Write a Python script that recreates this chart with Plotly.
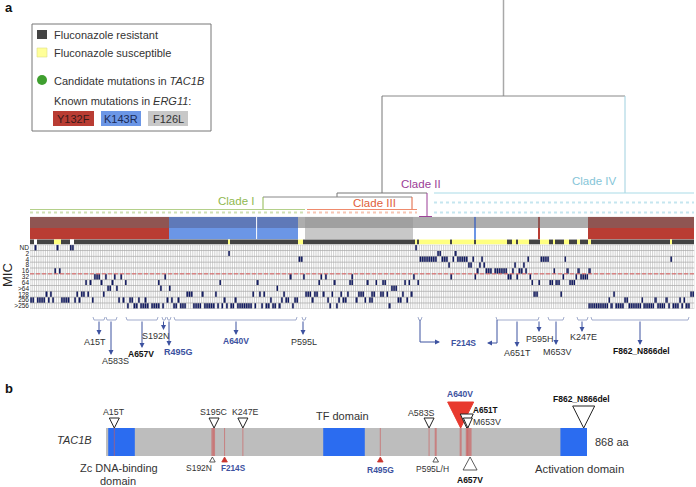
import plotly.graph_objects as go

W, H = 696, 487
FONT = "Liberation Sans"
TXT = "#333333"
RED, BLUE, GREY = "#b93c33", "#6b96e6", "#c8c8c8"
ARROW = "#3d52a0"
NAVY = "#0d1660"

# ---------- MIC panel data: (first isolate, number of isolates) per MIC row ----------
mic_labels = ["ND", "2", "4", "8", "16", "32", "64", ">64", "128", "256", ">256"]
mic_nd = [(2,1),(12,1),(18,2),(175,1)]
mic_2 = [(90,1),(185,2),(193,1)]
mic_4 = [(122,2),(177,8),(187,3),(192,1),(194,5),(201,1),(205,1),(226,1),(232,4),(243,1),(291,1)]
mic_8 = [(190,1),(199,2),(204,1),(206,1),(220,1),(224,1)]
mic_16 = [(11,1),(13,1),(203,1),(207,3),(211,6),(219,1),(222,2),(225,1),(238,1),(244,1),(249,1),(254,1)]
mic_32 = [(29,3),(34,1),(38,1),(41,1),(61,1),(118,1),(124,1),(132,1),(134,1),(146,1),(174,1),(191,1),
          (202,1),(217,2),(221,1),(227,1),(242,1),(248,1),(250,4)]
mic_64 = [(25,1),(27,1),(32,1),(37,1),(43,1),(58,1),(86,1),(103,1),(131,1),(138,1),(145,2),(153,1),(157,1),
          (160,2),(170,1),(172,1),(176,1),(228,1),(231,1),(236,2),(239,2),(245,3)]
mic_gt64 = [(35,2),(39,1),(59,1),(63,1),(112,1),(164,3)]
mic_128 = [(7,1),(9,1),(21,1),(23,2),(26,1),(33,1),(71,3),(78,1),(84,1),(101,1),(104,1),(106,1),(115,1),
           (125,3),(129,2),(133,1),(137,1),(141,1),(144,1),(149,1),(150,2),(155,2),(159,2),(162,1),(169,1),
           (173,1),(229,2),(241,1),(265,1),(300,2)]
mic_256 = [(0,2),(3,4),(8,1),(10,1),(14,4),(20,1),(22,1),(28,1),(40,1),(42,1),(45,2),(49,1),(52,1),(62,1),
           (64,1),(67,1),(88,1),(93,1),(109,1),(114,1),(116,2),(120,2),(128,1),(135,1),(140,1),(142,2),
           (148,1),(152,1),(154,2),(167,2),(171,1),(263,1),(270,2),(278,1),(284,1),(289,1),(295,1),(297,1)]
mic_gt256 = [(44,1),(47,2),(50,4),(55,4),(60,1),(65,2),(68,3),(74,4),(79,5),(85,1),(87,1),(89,1),(91,2),(94,7),
             (102,1),(105,1),(107,2),(110,2),(113,1),(119,1),(136,1),(139,1),(163,1),(254,9),(264,1),(266,4),
             (272,6),(279,5),(285,4),(290,1),(292,3),(296,1),(298,2)]
mic_rows = [mic_nd, mic_2, mic_4, mic_8, mic_16, mic_32, mic_64, mic_gt64, mic_128, mic_256, mic_gt256]

N = 302
# fluconazole status: 0 resistant, 1 susceptible, 2 unknown (default 0)
status_susceptible = [(11,3),(90,1),(122,2),(175,1),(177,14),(192,10),(203,14),(219,2),(222,5),(232,4),(238,1),
                      (243,2),(249,1),(254,1),(291,1)]
status_unknown = [(2,1),(18,2)]
# ERG11 mutation runs: 0 none, 1 Y132F, 2 K143R, 3 F126L
erg11_runs = [(0,63,1),(63,59,2),(125,49,3),(202,1,2),(231,1,1),(254,48,1)]
erg11_gap_column = 103
# isolates carrying candidate TAC1B mutations
candidate_runs = [(29,11),(43,15),(60,1),(62,1),(65,56),(124,2),(180,2),(212,20),(235,7),(248,5),(254,45)]

# ---------- protein (panel b) data ----------
protein_length = 868
domains = [(4, 52), (392, 467), (820, 868)]
mutation_positions = [15, 192, 195, 214, 247, 495, 583, 595, 640, 651, 653, 657]
mutation_widths = [1, 2, 2, 1, 1, 1, 1, 2, 2, 2, 2, 3]
tri_down = [  # aa, half width px, top px, fill
    (15, 5, 418, "white"), (195, 5, 418, "white"), (247, 5, 418, "white"), (583, 5, 418, "white"),
    (640, 13, 402, "#e8392e"), (651, 6.5, 414, "white"), (653, 4.5, 418, "white"), (862, 11, 406, "white")]
tri_up = [  # aa, half width px, bottom px, fill
    (192, 2.8, 462, "white"), (214, 2.8, 462, "#c9352e"), (495, 2.8, 462, "#c9352e"),
    (595, 2.8, 462, "white"), (657, 7, 470, "white")]

# pixel frames of the panels
GX0, CW = 30.0, 2.2
G_TOP, G_BOT = 244.7, 308.8
BAR_TOP, BAR_BOT = 428, 456
PX0, PX1 = 106.0, 587.0


def fx(px): return px / W
def fy(py): return 1 - py / H


fig = go.Figure()

def line(xs, ys, color, width=1, dash=None, **kw):
    fig.add_trace(go.Scatter(x=xs, y=ys, mode="lines", hoverinfo="skip", showlegend=False,
                             line=dict(color=color, width=width, dash=dash), **kw))

def rect(x0, x1, y0, y1, fill, border=None, lw=1):
    fig.add_trace(go.Scatter(x=[x0, x1, x1, x0, x0], y=[y0, y0, y1, y1, y0], mode="lines", fill="toself",
                             fillcolor=fill, hoverinfo="skip", showlegend=False,
                             line=dict(color=border or fill, width=lw if border else 0)))

# invisible trace keeps main axes alive
line([0, W], [0, H], "rgba(0,0,0,0)", 0)

# ---------- dendrogram ----------
line([503.5, 503.5], [0, 96], "#a8a8a8", 1.5)
line([382, 625], [96, 96], "#888888", 1)
line([382, 382], [96, 193], "#777777", 1)
line([625, 625], [96, 193], "#9fd0df", 1)
line([337, 427], [193, 193], "#777777", 1)
line([337, 337], [193, 197], "#777777", 1)
line([263, 412], [197, 197], "#888888", 1)
line([263, 263], [197, 209], "#8fb84f", 1)
line([412, 412], [197, 209], "#e0603a", 1)
line([427, 427], [193, 216], "#9b3c96", 1)
line([419, 432], [216.5, 216.5], "#9b3c96", 1)

# clade strips
line([30, 305], [209.5, 209.5], "#b4d08a", 1.2)
line([30, 305], [212.5, 212.5], "#cfe0b4", 2, "dot")
line([307, 417], [209.5, 209.5], "#ef8b6d", 1.2)
line([307, 417], [212.5, 212.5], "#f6c6b4", 2, "dot")
line([434, 694], [193, 193], "#aadbe8", 1.2)
line([434, 694], [202.5, 202.5], "#c5e6ef", 2, "dot")
line([434, 694], [212.5, 212.5], "#c5e6ef", 2, "dot")

# ---------- legend box ----------
rect(32, 211, 24, 131, "white", "#777777", 1)
rect(37, 47, 30, 39, "#444444")
rect(37, 47, 48, 57, "#ffff99", "#dddd88", 0.6)
fig.add_trace(go.Scatter(x=[42], y=[80], mode="markers", showlegend=False, hoverinfo="skip",
                         marker=dict(size=10, color="#3f9f2f")))
rect(53, 94, 111, 126, RED)
rect(101, 141, 111, 126, BLUE)
rect(148, 188, 111, 126, GREY)

# ---------- bracket + arrows under the MIC panel ----------
brackets = [(93,105),(106,117),(126,158),(162,166),(167,171),(174,297),(302,306),
            (418,422),(496,539),(548,564),(577,588),(591,689)]
for a, b in brackets:
    line([a, a + 1, b - 1, b], [317, 320, 320, 317], "#8a98c0", 0.8)

# ---------- protein schematic on an amino-acid axis ----------
AAPX = (PX1 - PX0) / protein_length
AA_LO, AA_HI = -100, 1000
ax3 = dict(xaxis="x3", yaxis="y")
rect_x = lambda a, b, c: fig.add_trace(go.Scatter(
    x=[a, b, b, a, a], y=[BAR_TOP, BAR_TOP, BAR_BOT, BAR_BOT, BAR_TOP], mode="lines", fill="toself",
    fillcolor=c, hoverinfo="skip", showlegend=False, line=dict(width=0), **ax3))
rect_x(0, protein_length, "#bdbdbd")
for a, b in domains:
    rect_x(a, b, "#2b6cf0")
for p, w in zip(mutation_positions, mutation_widths):
    fig.add_trace(go.Scatter(x=[p, p], y=[BAR_TOP, BAR_BOT], mode="lines", hoverinfo="skip", showlegend=False,
                             line=dict(color="rgba(205,90,90,0.62)", width=w), **ax3))
for aa, hw, top, c in tri_down:
    d = hw / AAPX
    fig.add_trace(go.Scatter(x=[aa - d, aa + d, aa, aa - d], y=[top, top, BAR_TOP, top], mode="lines",
                             fill="toself", fillcolor=c, hoverinfo="skip", showlegend=False,
                             line=dict(color="#222222" if c == "white" else c, width=1), **ax3))
for aa, hw, bot, c in tri_up:
    d = hw / AAPX
    fig.add_trace(go.Scatter(x=[aa - d, aa + d, aa, aa - d], y=[bot, bot, 457, bot], mode="lines",
                             fill="toself", fillcolor=c, hoverinfo="skip", showlegend=False,
                             line=dict(color="#333333" if c == "white" else c, width=0.8), **ax3))

# ---------- MIC grid ----------
mx = dict(xaxis="x2", yaxis="y2")
vx, vy = [], []
for c in range(N + 1):
    vx += [c, c, None]
    vy += [-0.5, 10.5, None]
fig.add_trace(go.Scatter(x=vx, y=vy, mode="lines", line=dict(color="#bdbdbd", width=0.7),
                         hoverinfo="skip", showlegend=False, **mx))
hx, hy = [], []
for r in range(12):
    hx += [0, N, None]
    hy += [r - 0.5, r - 0.5, None]
fig.add_trace(go.Scatter(x=hx, y=hy, mode="lines", line=dict(color="#a8a8a8", width=0.7),
                         hoverinfo="skip", showlegend=False, **mx))

z = [[None] * N for _ in mic_labels]
for r, runs in enumerate(mic_rows):
    for s, n in runs:
        for c in range(s, min(s + n, N)):
            z[r][c] = 1
fig.add_trace(go.Heatmap(x=[i + 0.5 for i in range(N)], y=list(range(11)), z=z, zmin=0, zmax=1,
                         colorscale=[[0, NAVY], [1, NAVY]], showscale=False, hoverinfo="skip", **mx))
# MIC breakpoint
fig.add_trace(go.Scatter(x=[0, N], y=[4.5, 4.5], mode="lines", line=dict(color="#e25656", width=0.9, dash="4px,2px"),
                         hoverinfo="skip", showlegend=False, **mx))
# candidate dots
cand = [c + 0.5 for s, n in candidate_runs for c in range(s, s + n)]
fig.add_trace(go.Scatter(x=cand, y=[11.24] * len(cand), mode="markers", cliponaxis=False,
                         marker=dict(color="#5aa83a", size=2.3), hoverinfo="skip", showlegend=False, **mx))

# status strip
st = [0] * N
for s, n in status_susceptible:
    for c in range(s, s + n): st[c] = 1
for s, n in status_unknown:
    for c in range(s, s + n): st[c] = 2
fig.add_trace(go.Heatmap(x=[i + 0.5 for i in range(N)], y=[0], z=[st], zmin=0, zmax=2, showscale=False,
                         colorscale=[[0, "#434343"], [0.33, "#434343"], [0.34, "#ffff80"], [0.66, "#ffff80"],
                                     [0.67, "white"], [1, "white"]],
                         hoverinfo="skip", xaxis="x2", yaxis="y3"))
# ERG11 strip: lower solid row and upper stippled row
erg = [0] * N
for s, n, k in erg11_runs:
    for c in range(s, s + n): erg[c] = k
upper = [e + 4 for e in erg]
fig.add_trace(go.Heatmap(x=[i + 0.5 for i in range(N)], y=[0, 1], z=[erg, upper], zmin=0, zmax=7, showscale=False,
                         colorscale=[[0, "white"], [0.125, "white"], [0.126, RED], [0.25, RED], [0.26, BLUE], [0.39, BLUE],
                                     [0.40, GREY], [0.55, GREY], [0.56, "#adadad"], [0.68, "#adadad"],
                                     [0.69, "#8f5552"], [0.82, "#8f5552"], [0.83, "#5f79b8"], [0.95, "#5f79b8"],
                                     [0.96, "#a0a0a0"], [1, "#a0a0a0"]],
                         hoverinfo="skip", xaxis="x2", yaxis="y4"))
fig.add_trace(go.Scatter(x=[erg11_gap_column, erg11_gap_column], y=[-0.5, 1.5], mode="lines",
                         line=dict(color="white", width=1), hoverinfo="skip", showlegend=False,
                         xaxis="x2", yaxis="y4"))

# ---------- text ----------
ann = []
def t(x, y, s, size=9, color=TXT, anchor="center", bold=False):
    ann.append(dict(x=x, y=y, xref="x", yref="y", text=f"<b>{s}</b>" if bold else s, showarrow=False,
                    xanchor=anchor, yanchor="middle", font=dict(size=size, color=color, family=FONT)))

def arrow(x0, y0, x1, y1):
    ann.append(dict(x=x1, y=y1, ax=x0, ay=y0, xref="x", yref="y", axref="x", ayref="y", text="", showarrow=True,
                    arrowhead=2, arrowsize=1, arrowwidth=1, arrowcolor=ARROW))

t(9, 7, "a", 13, "#111", bold=True)
t(9, 388, "b", 13, "#111", bold=True)
t(52, 35, "Fluconazole resistant", 11, anchor="left")
t(52, 53, "Fluconazole susceptible", 11, anchor="left")
t(52, 81, "Candidate mutations in <i>TAC1B</i>", 11, anchor="left")
t(52, 101, "Known mutations in <i>ERG11</i>:", 11, anchor="left")
t(73.5, 118.5, "Y132F", 11, "#3a1a1a")
t(121, 118.5, "K143R", 11, "#1a2a55")
t(168, 118.5, "F126L", 11)
t(235.5, 201, "Clade I", 11.5, "#8fb84f")
t(421, 184, "Clade II", 11.5, "#9b3c96")
t(374, 203, "Clade III", 11.5, "#e0603a")
t(594, 181, "Clade IV", 11.5, "#85c5d8")
ann.append(dict(x=7, y=275, xref="x", yref="y", text="MIC", textangle=-90, showarrow=False,
                font=dict(size=13, color="#222", family=FONT)))

# arrows and labels panel a
arrow(99, 320, 99, 335); t(95, 342, "A15T", 9)
arrow(111, 320, 111, 355); t(115, 361, "A583S", 9)
arrow(142, 320, 142, 348); t(141, 354, "A657V", 8.5, "#111", bold=True)
arrow(163.5, 320, 163.5, 330); t(156, 336, "S192N", 9)
arrow(169, 320, 169, 346); t(178, 352, "R495G", 9, ARROW, bold=True)
arrow(236, 320, 236, 335); t(236, 341, "A640V", 8.5, ARROW, bold=True)
arrow(303, 320, 303, 335); t(304, 342, "P595L", 9)
line([420, 420, 436], [320, 342, 342], ARROW, 1)
arrow(436, 342, 440, 342)
t(463, 343, "F214S", 8.5, ARROW, bold=True)
line([497, 497, 491], [320, 343, 343], ARROW, 1)
arrow(491, 343, 487, 343)
arrow(517, 320, 517, 347); t(517, 353, "A651T", 9)
arrow(539, 320, 539, 332); t(540, 339, "P595H", 9)
arrow(556, 320, 556, 345); t(557, 352, "M653V", 9)
arrow(582, 320, 582, 332); t(583, 337, "K247E", 9)
arrow(640, 320, 640, 345); t(641, 351, "F862_N866del", 8.5, "#111", bold=True)

# panel b labels
t(74, 440, "<i>TAC1B</i>", 11)
t(114, 412, "A15T", 8.8)
t(214, 412, "S195C", 8.8)
t(245, 412, "K247E", 8.8)
t(342, 416, "TF domain", 11)
t(421, 413, "A583S", 8.8)
t(460, 394, "A640V", 8.5, ARROW, bold=True)
t(485, 410, "A651T", 8.2, "#111", bold=True)
t(487, 422, "M653V", 8.8)
t(581, 399, "F862_N866del", 8.5, "#111", bold=True)
t(199, 468, "S192N", 8.5)
t(233, 468, "F214S", 8.2, ARROW, bold=True)
t(380, 470, "R495G", 8.5, ARROW, bold=True)
t(432, 469, "P595L/H", 8.5)
t(470, 480, "A657V", 8.5, "#111", bold=True)
t(119, 468, "Zc DNA-binding", 11)
t(118, 481, "domain", 11)
t(579, 469, "Activation domain", 11.3)
t(612, 442, "868 aa", 11)

hidden = dict(visible=False, showgrid=False, zeroline=False, fixedrange=True)
GX1 = GX0 + N * CW
fig.update_layout(
    width=W, height=H, margin=dict(l=0, r=0, t=0, b=0, pad=0), paper_bgcolor="white", plot_bgcolor="rgba(0,0,0,0)",
    showlegend=False, annotations=ann, font=dict(family=FONT),
    xaxis=dict(range=[0, W], domain=[0, 1], anchor="y", **hidden),
    yaxis=dict(range=[H, 0], domain=[0, 1], anchor="x", **hidden),
    xaxis2=dict(range=[0, N], domain=[fx(GX0), fx(GX1)], anchor="y2", **hidden),
    yaxis2=dict(range=[10.5, -0.5], domain=[fy(G_BOT), fy(G_TOP)], anchor="x2", showgrid=False, zeroline=False,
                tickmode="array", tickvals=list(range(11)), ticktext=mic_labels, ticks="", showline=False,
                tickfont=dict(size=6.5, color="#222", family=FONT), fixedrange=True),
    yaxis3=dict(range=[-0.5, 0.5], domain=[fy(G_TOP), fy(239.3)], anchor="x2", **hidden),
    yaxis4=dict(range=[-0.5, 1.5], domain=[fy(239.3), fy(216.7)], anchor="x2", **hidden),
    xaxis3=dict(range=[AA_LO, AA_HI], domain=[fx(PX0 + AA_LO * AAPX), fx(PX0 + AA_HI * AAPX)], anchor="y", **hidden),
)
fig.write_html("out.html", config=dict(displayModeBar=False),
               post_script="document.body.style.margin='0';document.body.style.overflow='hidden';")
